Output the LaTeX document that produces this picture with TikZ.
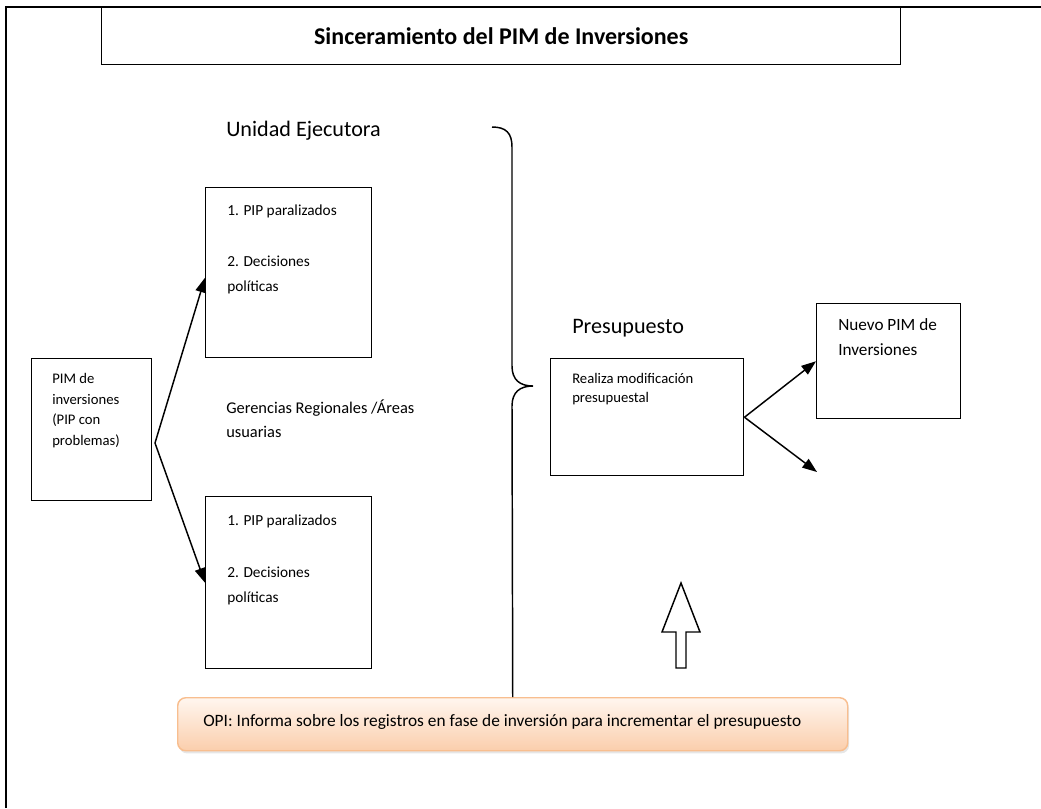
\documentclass[tikz,border=0pt]{standalone}
\usepackage{fontspec}
\setmainfont{Carlito}
\usetikzlibrary{arrows.meta,shadows}
\begin{document}
\begin{tikzpicture}[x=0.75pt,y=-0.75pt,
  box/.style={draw=black,line width=1.1pt,fill=white,anchor=north west,inner sep=0pt},
  txt/.style={anchor=base west,inner sep=0pt,font=\fontsize{11pt}{13pt}\selectfont},
  listtxt/.style={txt,font=\fontsize{11.5pt}{14pt}\selectfont},
  midtxt/.style={txt,font=\fontsize{12.3pt}{14pt}\selectfont},
  nuevotxt/.style={txt,font=\fontsize{12.9pt}{15pt}\selectfont},
  bigtxt/.style={txt,font=\fontsize{16.6pt}{19pt}\selectfont},
  link/.style={line width=1.1pt,-{Triangle[length=11pt,width=8pt]}},
  opibox/.style={draw={rgb,255:red,248;green,190;blue,143},line width=1.1pt,rounded corners=6pt,
    top color={rgb,255:red,255;green,246;blue,239},bottom color={rgb,255:red,251;green,206;blue,172},
    drop shadow={opacity=0.2,shadow xshift=1pt,shadow yshift=-2pt},
    anchor=north west,inner sep=0pt}
]
\useasboundingbox (0,0) rectangle (1041,808);

% page frame (top and left rules)
\draw[line width=1.6pt] (6,808) -- (6,7) -- (1041,7);

% title
\node[box,minimum width=599.25pt,minimum height=42.75pt] (title) at (101,7)
  {\fontsize{18pt}{21pt}\selectfont\bfseries Sinceramiento del PIM de Inversiones};

% left column
\node[box,minimum width=90pt,minimum height=106.5pt] (pim) at (31,358) {};
\node[txt] (pim1) at (52,383) {PIM de};
\node[txt] (pim2) at (52,404) {inversiones};
\node[txt] (pim3) at (52,424) {(PIP con};
\node[txt] (pim4) at (52,445) {problemas)};

\node[bigtxt] (ue) at (226,136) {Unidad Ejecutora};

\node[box,minimum width=124.5pt,minimum height=127.5pt] (a1) at (205,187) {};
\node[listtxt] (a1l1) at (227,215) {1. PIP paralizados};
\node[listtxt] (a1l2) at (227,266) {2. Decisiones};
\node[listtxt] (a1l3) at (227,291) {políticas};

\node[midtxt] (gr1) at (226,413) {Gerencias Regionales /Áreas};
\node[midtxt] (gr2) at (226,437) {usuarias};

\node[box,minimum width=124.5pt,minimum height=129pt] (a2) at (205,496) {};
\node[listtxt] (a2l1) at (227,525) {1. PIP paralizados};
\node[listtxt] (a2l2) at (227,577) {2. Decisiones};
\node[listtxt] (a2l3) at (227,602) {políticas};

% fork from the PIM box
\coordinate (fork) at (155,443);
\draw[link] (fork) -- ([yshift=-3.75pt]a1.west);
\draw[link] (fork) -- (a2.west);

% OPI note
\node[opibox,minimum width=502.5pt,minimum height=39.75pt] (opi) at (177,697) {};
\node[txt,font=\fontsize{13pt}{15pt}\selectfont] (opitxt) at (203,726)
  {OPI: Informa sobre los registros en fase de inversión para incrementar el presupuesto};

% brace
\coordinate (bt) at (492,127);
\coordinate (bm) at (533,386);
\draw[line width=1.1pt] (bt) .. controls (506,127) and (512,133) .. (512,147)
  -- (512,366) .. controls (512,380) and (520,386) .. (bm)
  .. controls (520,386) and (512,392) .. (512,406) -- (opi.north);

% right column
\node[bigtxt] (pres) at (572,333) {Presupuesto};
\node[box,minimum width=144.75pt,minimum height=87.75pt] (real) at (550,358) {};
\node[txt] (real1) at (572,383) {Realiza modificación};
\node[txt] (real2) at (572,402) {presupuestal};

\node[box,minimum width=108pt,minimum height=86.25pt] (nuevo) at (816,303) {};
\node[nuevotxt] (nuevo1) at (838,330) {Nuevo PIM de};
\node[nuevotxt] (nuevo2) at (838,355) {Inversiones};

\coordinate (free) at (817,472);
\draw[link] (real.east) -- (nuevo.west);
\draw[link] (real.east) -- (free);

% hollow block arrow
\draw[line width=1.1pt,fill=white] (676,668) -- (676,632) -- (662,632) -- (681,583)
  -- (700,632) -- (686,632) -- (686,668) -- cycle;
\end{tikzpicture}
\end{document}
